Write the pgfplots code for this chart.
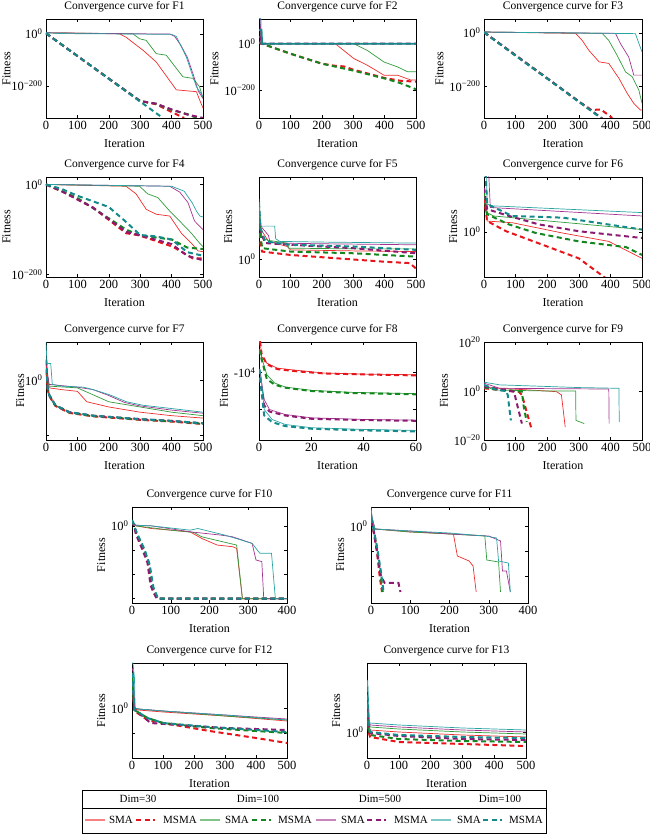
\documentclass[border=0pt]{standalone}
\usepackage{fontspec}
\setmainfont{Liberation Serif}
\usepackage{pgfplots}
\pgfplotsset{compat=1.18}
\definecolor{cR}{HTML}{EE2D2D}
\definecolor{cG}{HTML}{2F9B3B}
\definecolor{cP}{HTML}{A3338F}
\definecolor{cT}{HTML}{2AA3A3}
\definecolor{dR}{HTML}{E8141C}
\definecolor{dG}{HTML}{13861F}
\definecolor{dP}{HTML}{8C1A70}
\definecolor{dT}{HTML}{148A8A}
\newcommand{\tp}[1]{10\textsuperscript{#1}}
\pgfplotsset{
  cc/.style={scale only axis, anchor=south west, width=157pt, height=99pt,
    xmin=0, xmax=500, xtick={0,100,200,300,400,500},
    tick align=inside, major tick length=3pt,
    axis line style={line width=0.7pt}, every tick/.style={line width=0.5pt, black},
    /pgf/number format/assume math mode=true,
    tick label style={font=\fontsize{12.5}{13}\selectfont},
    label style={font=\fontsize{12}{13}\selectfont},
    title style={font=\fontsize{11.5}{13}\selectfont, yshift=-3pt},
    xlabel={Iteration}, ylabel={Fitness},
    xlabel style={yshift=-3pt}, ylabel style={yshift=-1pt},
  },
  lft/.style={ylabel style={yshift=-5pt}},
  sR/.style={color=cR, line width=0.7pt, mark=none},
  sG/.style={color=cG, line width=0.7pt, mark=none},
  sP/.style={color=cP, line width=0.7pt, mark=none},
  sT/.style={color=cT, line width=0.7pt, mark=none},
  mR/.style={color=dR, line width=2pt, dash pattern=on 5pt off 3.5pt, mark=none},
  mG/.style={color=dG, line width=2pt, dash pattern=on 5pt off 3.5pt, mark=none},
  mP/.style={color=dP, line width=2pt, dash pattern=on 5pt off 3.5pt, mark=none},
  mT/.style={color=dT, line width=2pt, dash pattern=on 5pt off 3.5pt, mark=none},
}
\begin{document}
\begin{tikzpicture}
\useasboundingbox (0pt,0pt) rectangle (650pt,835pt);
% ---------------- F1
\begin{axis}[cc, lft, at={(46pt,717pt)}, title={Convergence curve for F1}, ymin=-323, ymax=57, ytick={0,-200}, yticklabels={\tp{0},\tp{−200}}]
\addplot[sR] coordinates {(0,4)(234,0)(255,-13)(309,-63)(351,-108)(415,-215)(479,-222)(489,-253)(500,-285)};
\addplot[mR] coordinates {(0,2)(100,-85)(200,-172)(300,-258)(350,-270)(400,-300)(440,-323)};
\addplot[sG] coordinates {(0,4)(277,0)(298,-19)(319,-25)(351,-76)(383,-82)(436,-165)(468,-171)(489,-203)(500,-247)};
\addplot[mG] coordinates {(0,2)(100,-85)(200,-172)(300,-258)(350,-268)(400,-292)(450,-308)(480,-323)};
\addplot[sP] coordinates {(0,4)(395,-1)(410,-10)(430,-45)(450,-90)(470,-160)(485,-220)(500,-248)};
\addplot[mP] coordinates {(0,2)(100,-85)(200,-172)(300,-258)(350,-268)(400,-290)(450,-310)(490,-320)(500,-323)};
\addplot[sT] coordinates {(0,4)(50,1)(200,0)(400,-2)(415,-10)(447,-89)(479,-203)(500,-240)};
\addplot[mT] coordinates {(0,2)(100,-85)(200,-172)(300,-260)(372,-323)};
\end{axis}
% ---------------- F2
\begin{axis}[cc, at={(259pt,717pt)}, title={Convergence curve for F2}, ymin=-321, ymax=107, ytick={0,-200}, yticklabels={\tp{0},\tp{−200}}]
\addplot[sR] coordinates {(0,5)(5,0)(243,0)(302,-64)(345,-93)(398,-136)(441,-136)(484,-157)(500,-157)};
\addplot[mR] coordinates {(0,5)(10,0)(100,-43)(200,-86)(240,-95)(270,-98)(300,-112)(400,-148)(450,-160)(500,-164)};
\addplot[sG] coordinates {(0,60)(4,60)(6,0)(302,0)(345,-29)(398,-79)(441,-100)(473,-121)(500,-121)};
\addplot[mG] coordinates {(0,5)(10,0)(100,-43)(200,-86)(300,-116)(400,-150)(450,-170)(500,-197)};
\addplot[sP] coordinates {(0,110)(4,110)(6,0)(500,0)};
\addplot[mP] coordinates {(0,30)(5,30)(7,0)(500,0)};
\addplot[sT] coordinates {(0,110)(6,110)(8,0)(500,0)};
\addplot[color=dT, line width=1.8pt] coordinates {(0,60)(8,60)(10,0)(500,0)};
\end{axis}
% ---------------- F3
\begin{axis}[cc, at={(484pt,717pt)}, width=158pt, title={Convergence curve for F3}, ymin=-320, ymax=52, ytick={0,-200}, yticklabels={\tp{0},\tp{−200}}]
\addplot[sR] coordinates {(0,3)(290,-2)(311,-29)(332,-66)(364,-109)(395,-115)(427,-171)(453,-227)(474,-265)(495,-290)(500,-290)};
\addplot[mR] coordinates {(0,2)(100,-84)(200,-171)(300,-258)(340,-290)(370,-288)(406,-320)};
\addplot[sG] coordinates {(0,3)(374,-2)(395,-29)(421,-84)(448,-147)(469,-165)(490,-215)(500,-265)};
\addplot[mG] coordinates {(0,2)(100,-85)(200,-171)(300,-258)(374,-322)};
\addplot[sP] coordinates {(0,3)(416,-2)(432,-41)(458,-91)(474,-159)(500,-159)};
\addplot[mP] coordinates {(0,2)(100,-85)(200,-171)(300,-258)(374,-322)};
\addplot[sT] coordinates {(0,3)(479,-3)(500,-72)};
\addplot[mT] coordinates {(0,2)(100,-86)(200,-172)(300,-259)(372,-322)};
\end{axis}
% ---------------- F4
\begin{axis}[cc, lft, at={(46pt,558pt)}, height=100pt, title={Convergence curve for F4}, ymin=-205, ymax=16.5, ytick={0,-200}, yticklabels={\tp{0},\tp{−200}}]
\addplot[sR] coordinates {(0,0)(255,-4)(287,-21)(319,-55)(351,-66)(394,-70)(431,-108)(463,-130)(484,-147)(500,-149)};
\addplot[mR] coordinates {(0,0)(50,-15)(149,-51)(255,-108)(298,-113)(404,-138)(468,-164)(500,-164)};
\addplot[sG] coordinates {(0,0)(298,-4)(324,-21)(356,-29)(394,-59)(431,-85)(463,-108)(489,-130)(500,-138)};
\addplot[mG] coordinates {(0,0)(100,-30)(200,-75)(255,-100)(300,-113)(400,-122)(450,-140)(500,-143)};
\addplot[sP] coordinates {(0,0)(394,-4)(426,-17)(452,-40)(473,-81)(500,-100)};
\addplot[mP] coordinates {(0,0)(50,-15)(149,-51)(255,-105)(300,-113)(400,-132)(450,-158)(500,-168)};
\addplot[sT] coordinates {(0,0)(400,-4)(440,-15)(465,-40)(480,-60)(490,-70)(500,-72)};
\addplot[mT] coordinates {(0,0)(50,-10)(100,-25)(200,-50)(250,-80)(300,-112)(350,-115)(400,-122)(450,-150)(500,-158)};
\end{axis}
% ---------------- F5
\begin{axis}[cc, at={(259pt,558pt)}, height=100pt, title={Convergence curve for F5}, ymin=-53, ymax=242, ytick={0}, yticklabels={\tp{0}}]
\addplot[sR] coordinates {(0,102)(5,90)(10,82)(30,52)(90,37)(100,27)(300,24)(500,22)};
\addplot[mR] coordinates {(0,102)(5,40)(10,22)(100,12)(250,2)(400,-8)(480,-12)(500,-28)};
\addplot[sG] coordinates {(0,152)(5,90)(10,62)(30,55)(90,47)(95,32)(300,30)(500,30)};
\addplot[mG] coordinates {(0,152)(5,70)(10,32)(100,22)(300,17)(500,7)};
\addplot[sP] coordinates {(0,142)(5,100)(10,92)(30,70)(35,50)(60,47)(200,45)(500,42)};
\addplot[mP] coordinates {(0,142)(5,80)(20,47)(100,42)(300,32)(500,17)};
\addplot[sT] coordinates {(0,177)(3,120)(7,97)(50,97)(53,60)(66,52)(200,50)(500,47)};
\addplot[mT] coordinates {(0,167)(5,90)(20,52)(100,42)(300,37)(500,27)};
\end{axis}
% ---------------- F6
\begin{axis}[cc, at={(484pt,558pt)}, width=158pt, height=100pt, title={Convergence curve for F6}, ymin=-133, ymax=162, ytick={0}, yticklabels={\tp{0}}]
\addplot[sR] coordinates {(0,100)(10,32)(90,27)(247,-3)(395,-28)(500,-78)};
\addplot[mR] coordinates {(0,100)(10,32)(70,2)(200,-43)(300,-78)(380,-133)(390,-140)};
\addplot[sG] coordinates {(0,120)(10,57)(30,47)(500,7)};
\addplot[mG] coordinates {(0,110)(10,52)(79,22)(163,-3)(300,-28)(450,-45)(500,-68)};
\addplot[sP] coordinates {(0,170)(15,170)(20,72)(500,47)};
\addplot[mP] coordinates {(0,130)(10,67)(79,47)(174,22)(300,2)(500,-18)};
\addplot[sT] coordinates {(0,170)(8,170)(10,82)(25,77)(500,57)};
\addplot[mT] coordinates {(0,170)(5,170)(10,82)(89,47)(250,42)(500,7)};
\end{axis}
% ---------------- F7
\begin{axis}[cc, lft, at={(46pt,395pt)}, height=98pt, title={Convergence curve for F7}, ymin=-172, ymax=110, ytick={0,-157}, yticklabels={\tp{0},}]
\addplot[sR] coordinates {(0,20)(10,-22)(50,-27)(100,-32)(130,-62)(200,-77)(300,-92)(400,-102)(500,-109)};
\addplot[mR] coordinates {(0,50)(5,-25)(10,-45)(30,-74)(75,-94)(150,-104)(300,-114)(400,-119)(500,-126)};
\addplot[sG] coordinates {(0,30)(5,10)(10,-17)(100,-22)(150,-42)(200,-62)(300,-77)(400,-92)(500,-102)};
\addplot[mG] coordinates {(0,55)(5,-22)(10,-43)(30,-73)(75,-93)(150,-103)(300,-113)(400,-118)(500,-125)};
\addplot[sP] coordinates {(0,60)(5,20)(10,-12)(100,-20)(150,-27)(200,-44)(250,-64)(300,-74)(400,-86)(500,-95)};
\addplot[mP] coordinates {(0,58)(5,-21)(10,-42)(30,-72)(75,-92)(150,-102)(300,-112)(400,-117)(500,-124)};
\addplot[sT] coordinates {(0,110)(3,50)(5,48)(15,48)(20,-12)(50,-17)(119,-20)(150,-27)(203,-42)(256,-62)(309,-72)(405,-82)(500,-92)};
\addplot[mT] coordinates {(0,60)(5,-20)(10,-42)(30,-72)(75,-92)(150,-102)(300,-112)(400,-117)(500,-124)};
\end{axis}
% ---------------- F8
\begin{axis}[cc, at={(259pt,395pt)}, height=98pt, title={Convergence curve for F8}, xmin=0, xmax=60, xtick={0,20,40,60}, ymin=-204, ymax=92, ytick={0,-110}, yticklabels={-\tp{4},}]
\addplot[sR] coordinates {(0,120)(0.5,92)(1,48)(3,28)(7,13)(15,6)(25,-2)(40,-5)(60,-7)};
\addplot[mR] coordinates {(0,120)(1,55)(3,25)(7,10)(15,3)(25,-3)(40,-6)(60,-9)};
\addplot[sG] coordinates {(0,70)(0.5,58)(3,-7)(6,-32)(10,-44)(20,-54)(35,-60)(60,-64)};
\addplot[mG] coordinates {(0,70)(1,40)(3,-20)(6,-37)(10,-46)(20,-56)(35,-62)(60,-66)};
\addplot[sP] coordinates {(0,10)(0.3,8)(2,-82)(4,-112)(10,-127)(20,-137)(40,-142)(60,-144)};
\addplot[mP] coordinates {(0,10)(1,-50)(2,-100)(4,-118)(10,-130)(20,-140)(40,-144)(60,-146)};
\addplot[sT] coordinates {(0,10)(0.5,8)(2,-112)(5,-142)(10,-157)(20,-167)(40,-172)(60,-175)};
\addplot[mT] coordinates {(0,10)(1,-60)(2,-130)(5,-150)(10,-162)(20,-170)(40,-175)(60,-178)};
\end{axis}
% ---------------- F9
\begin{axis}[cc, at={(484pt,395pt)}, width=158pt, height=98pt, title={Convergence curve for F9}, ymin=-20, ymax=20, ytick={-20,0,20}, yticklabels={\tp{−20},\tp{0},\tp{20}}]
\addplot[sR] coordinates {(0,1.8)(50,1.1)(200,0)(230,-0.3)(245,-1.6)(257,-14.7)};
\addplot[mR] coordinates {(0,1.1)(110,-0.3)(120,-1.6)(150,-15.3)};
\addplot[sG] coordinates {(0,2.5)(30,0.4)(200,0)(290,0)(291,-12)(317,-13.3)};
\addplot[mG] coordinates {(0,1.4)(100,0)(120,-0.3)(125,-5.8)(135,-12.6)};
\addplot[sP] coordinates {(0,3.2)(50,1.1)(395,0.8)(396,-13.3)};
\addplot[mP] coordinates {(0,1.8)(60,0.4)(95,-0.3)(100,-3)(120,-13.3)};
\addplot[sT] coordinates {(0,3.6)(50,2.5)(300,1.4)(427,1.1)(428,-12.6)};
\addplot[mT] coordinates {(0,2.5)(40,0.4)(70,0)(75,-1.6)(85,-12)};
\end{axis}
% ---------------- F10
\begin{axis}[cc, at={(132pt,232pt)}, width=155pt, height=96pt, title={Convergence curve for F10}, xmax=400, xtick={0,100,200,300,400}, ymin=-233, ymax=57, ytick={0,-73,-145,-218}, yticklabels={\tp{0},,,}]
\addplot[sR] coordinates {(0,10)(10,0)(50,-8)(150,-18)(180,-38)(220,-58)(260,-63)(270,-68)(285,-220)(400,-220)};
\addplot[mR] coordinates {(0,15)(5,2)(11,-23)(29,-70)(42,-110)(50,-180)(59,-205)(65,-220)(400,-220)};
\addplot[sG] coordinates {(0,12)(10,0)(100,-13)(160,-20)(180,-33)(270,-58)(285,-220)(400,-220)};
\addplot[mG] coordinates {(0,16)(5,2)(12,-23)(30,-70)(44,-112)(52,-182)(60,-205)(66,-220)(400,-220)};
\addplot[sP] coordinates {(0,15)(10,2)(50,0)(150,-18)(230,-28)(260,-33)(310,-53)(320,-103)(335,-108)(340,-220)(400,-220)};
\addplot[mP] coordinates {(0,15)(5,2)(10,-25)(27,-72)(40,-112)(48,-180)(57,-205)(64,-220)(400,-220)};
\addplot[sT] coordinates {(0,17)(10,2)(50,0)(150,-13)(170,-8)(240,-28)(310,-53)(330,-83)(360,-83)(370,-220)(400,-220)};
\addplot[mT] coordinates {(0,18)(5,2)(13,-23)(32,-70)(46,-120)(55,-185)(62,-205)(68,-220)(400,-220)};
\end{axis}
% ---------------- F11
\begin{axis}[cc, at={(371pt,232pt)}, width=157pt, height=96pt, title={Convergence curve for F11}, xmax=400, xtick={0,100,200,300,400}, ymin=-77, ymax=19, ytick={0,-25,-50}, yticklabels={\tp{0},,}]
\addplot[sR] coordinates {(0,10)(10,-3)(100,-6)(210,-8)(220,-30)(250,-35)(260,-40)(268,-66)};
\addplot[mR] coordinates {(0,5)(5,-2)(15,-25)(22,-50)(28,-66)};
\addplot[sG] coordinates {(0,12)(10,-3)(100,-6)(200,-8)(290,-10)(295,-34)(325,-36)(330,-66)};
\addplot[mG] coordinates {(0,6)(5,0)(15,-22)(25,-50)(30,-66)};
\addplot[sP] coordinates {(0,15)(5,5)(10,-3)(100,-5)(200,-8)(300,-10)(330,-15)(335,-45)(345,-45)(355,-66)};
\addplot[mP] coordinates {(0,5)(5,-1)(15,-25)(25,-50)(35,-57)(70,-57)(75,-66)};
\addplot[sT] coordinates {(0,19)(3,8)(10,-3)(100,-5)(200,-7)(290,-10)(320,-12)(325,-35)(350,-37)(355,-66)};
\addplot[mT] coordinates {(0,8)(5,0)(15,-20)(25,-45)(32,-66)};
\end{axis}
% ---------------- F12
\begin{axis}[cc, at={(132pt,77pt)}, width=155pt, height=95pt, title={Convergence curve for F12}, ymin=-50, ymax=45, ytick={0,-25}, yticklabels={\tp{0},}]
\addplot[sR] coordinates {(0,30)(5,5)(8,-1)(20,-2)(100,-4)(300,-8)(500,-13)};
\addplot[mR] coordinates {(0,28)(8,-3)(50,-12)(100,-15)(250,-23)(400,-30)(500,-35)};
\addplot[sG] coordinates {(0,35)(5,10)(8,0)(20,-1)(100,-3)(300,-8)(500,-12)};
\addplot[mG] coordinates {(0,30)(8,-2)(50,-10)(100,-15)(250,-20)(500,-25)};
\addplot[sP] coordinates {(0,40)(5,35)(8,0)(20,-1)(100,-3)(300,-7)(500,-11)};
\addplot[mP] coordinates {(0,35)(8,-2)(30,-7)(60,-15)(150,-17)(300,-20)(500,-22)};
\addplot[sT] coordinates {(0,45)(3,45)(8,30)(10,0)(20,-1)(100,-3)(300,-7)(500,-12)};
\addplot[mT] coordinates {(0,35)(8,-2)(50,-10)(100,-15)(250,-19)(500,-24)};
\end{axis}
% ---------------- F13
\begin{axis}[cc, at={(367pt,77pt)}, width=159pt, height=95pt, title={Convergence curve for F13}, ymin=-26, ymax=69, ytick={0}, yticklabels={\tp{0}}]
\addplot[sR] coordinates {(0,30)(5,10)(10,2)(100,0)(300,-3)(500,-5)};
\addplot[mR] coordinates {(0,25)(5,0)(10,-5)(100,-10)(300,-12)(500,-14)};
\addplot[sG] coordinates {(0,35)(5,12)(10,5)(100,3)(300,0)(500,-2)};
\addplot[mG] coordinates {(0,30)(5,2)(10,-3)(100,-7)(300,-9)(500,-10)};
\addplot[sP] coordinates {(0,40)(5,15)(10,7)(100,5)(300,2)(500,0)};
\addplot[mP] coordinates {(0,35)(5,4)(10,-1)(100,-4)(300,-7)(500,-8)};
\addplot[sT] coordinates {(0,40)(2,52)(5,30)(8,9)(100,7)(300,4)(500,2)};
\addplot[mT] coordinates {(0,45)(5,6)(10,0)(100,-3)(300,-5)(500,-6)};
\end{axis}
% ---------------- legend
\begin{scope}[font=\fontsize{11}{12}\selectfont]
\draw[line width=0.6pt] (82pt,2pt) rectangle (546pt,45pt);
\draw[line width=0.6pt] (82pt,27pt) -- (546pt,27pt);
\node at (138pt,36pt) {Dim=30};
\node at (258pt,36pt) {Dim=100};
\node at (380pt,36pt) {Dim=500};
\node at (500pt,36pt) {Dim=100};
\draw[cR!60!white, line width=1.2pt] (85pt,15pt) -- (105pt,15pt); \node at (121pt,15pt) {SMA};
\draw[dR, line width=2pt, dash pattern=on 5pt off 3.5pt] (136pt,15pt) -- (155pt,15pt); \node at (180pt,15pt) {MSMA};
\draw[cG!60!white, line width=1.2pt] (200pt,15pt) -- (220pt,15pt); \node at (237pt,15pt) {SMA};
\draw[dG, line width=2pt, dash pattern=on 5pt off 3.5pt] (252pt,15pt) -- (271pt,15pt); \node at (295pt,15pt) {MSMA};
\draw[cP!60!white, line width=1.2pt] (316pt,15pt) -- (336pt,15pt); \node at (353pt,15pt) {SMA};
\draw[dP, line width=2pt, dash pattern=on 5pt off 3.5pt] (367pt,15pt) -- (386pt,15pt); \node at (411pt,15pt) {MSMA};
\draw[cT!60!white, line width=1.2pt] (431pt,15pt) -- (451pt,15pt); \node at (469pt,15pt) {SMA};
\draw[dT, line width=2pt, dash pattern=on 5pt off 3.5pt] (483pt,15pt) -- (502pt,15pt); \node at (526pt,15pt) {MSMA};
\end{scope}
\end{tikzpicture}
\end{document}
